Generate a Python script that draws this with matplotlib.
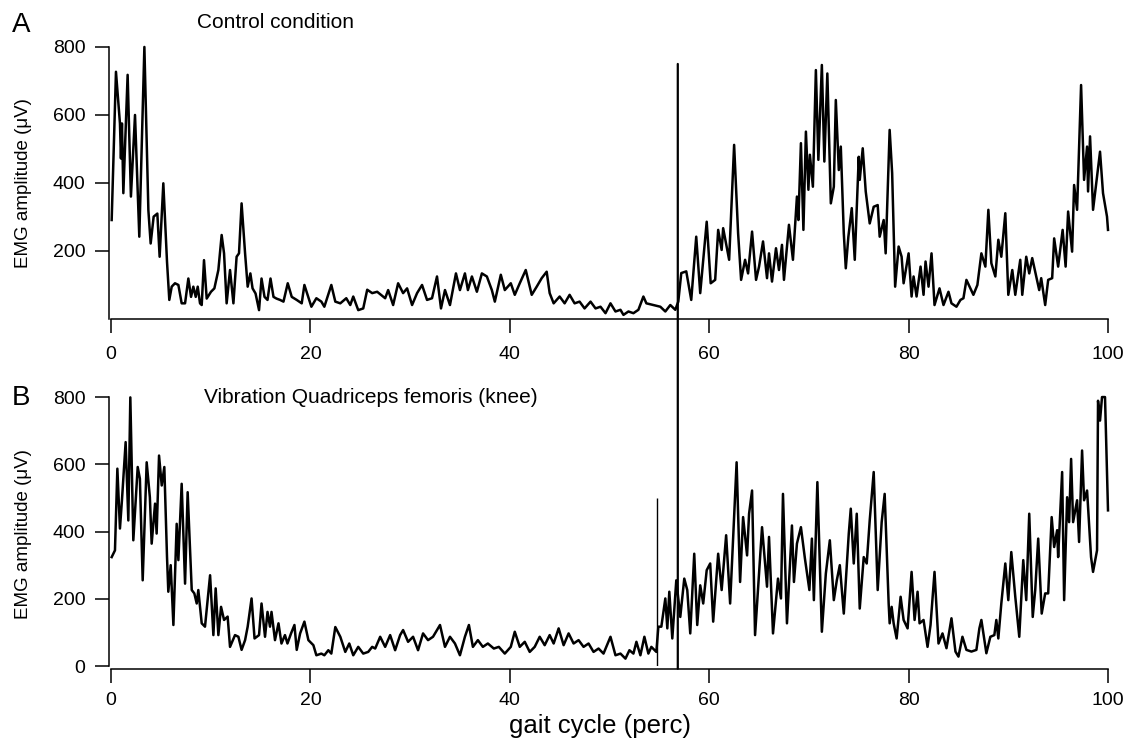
import matplotlib
matplotlib.use('Agg')
import matplotlib.pyplot as plt
from matplotlib.patches import ConnectionPatch

plt.rcParams['font.family'] = ['Liberation Sans', 'DejaVu Sans']

# ---- panel A: control condition (gait cycle %, EMG uV) ----
xA = [0.07, 0.5, 0.9, 1.0, 1.1, 1.24, 1.67, 2.0, 2.41, 2.84, 3.35, 3.75, 3.98, 4.28, 4.65, 4.88, 5.25, 5.62, 5.85, 6.09,
      6.42, 6.76, 7.09, 7.43, 7.76, 8.03, 8.26, 8.5, 8.7, 8.93, 9.1, 9.33, 9.6, 10.03, 10.37, 10.77, 11.1, 11.34, 11.6, 11.94,
      12.28, 12.6, 12.84, 13.1, 13.45, 13.71, 13.98, 14.2, 14.5, 14.85, 15.1, 15.4, 15.7, 16.0, 16.3, 16.6, 16.96, 17.3, 17.73, 18.13,
      18.63, 19.13, 19.4,
      20.1, 20.6, 21.1, 21.4, 22.1, 22.5, 23.0, 23.6, 24.0, 24.3, 24.8, 25.3, 25.7, 26.2, 26.7,
      27.5, 27.8, 28.3, 28.8, 29.3, 29.7, 30.2, 30.7, 31.2, 31.7, 32.2, 32.7, 33.1, 33.5, 34.0, 34.6, 35.0, 35.5, 35.8, 36.2,
      36.7, 37.2, 37.7, 38.2, 38.5, 39.1, 39.5, 40.1, 40.5, 41.0, 41.6, 42.2, 42.7, 43.2, 43.7, 44.0, 44.4, 45.0, 45.5, 46.0,
      46.5, 47.0, 47.5, 48.1, 48.6, 49.1, 49.6, 50.1, 50.6, 51.1, 51.4, 51.9, 52.4, 52.9, 53.4, 53.7, 54.4, 55.1, 55.6, 56.1,
      56.6, 56.9,
      57.2, 57.7, 58.2, 58.7, 59.1, 59.75, 60.15, 60.6, 60.9, 61.25, 61.4, 62.0, 62.5, 62.9, 63.2, 63.6, 63.9, 64.3, 64.7, 65.0,
      65.4, 65.8, 66.0, 66.3, 66.7, 67.0, 67.3, 67.5, 68.0, 68.4, 68.8, 68.95, 69.2, 69.45, 69.7, 69.95, 70.1, 70.4, 70.7, 70.95,
      71.3, 71.55, 71.85, 72.2, 72.5, 72.7, 73.0, 73.2, 73.5, 73.7, 73.96, 74.3, 74.6, 75.0, 75.1, 75.4, 75.7, 76.1, 76.5, 76.9,
      77.1, 77.5, 77.7, 78.1, 78.35, 78.65, 79.0,
      79.3, 79.5, 80.0, 80.3, 80.5, 80.8, 81.2, 81.5, 81.7, 82.0, 82.3, 82.6, 83.1, 83.5, 84.0, 84.3, 84.8, 85.2, 85.5, 85.8,
      86.2, 86.5, 86.9, 87.3, 87.7, 88.0, 88.3, 88.7, 89.0, 89.3, 89.7, 90.0, 90.4, 90.7, 91.2, 91.4, 91.8, 92.1, 92.4, 92.8,
      93.1, 93.3, 93.7, 94.0, 94.4, 94.6, 95.0, 95.45, 95.75, 96.0, 96.4, 96.6, 96.9, 97.3, 97.6, 97.9, 98.0, 98.2, 98.5, 98.9,
      99.2, 99.5, 99.9, 100.0]
yA = [291, 727, 575, 472, 575, 370, 718, 360, 600, 242, 800, 320, 222, 301, 310, 183, 399, 168, 56, 95,
      105, 100, 46, 46, 119, 65, 95, 65, 95, 46, 41, 173, 60, 80, 90, 144, 247, 193, 46, 144,
      46, 183, 193, 340, 193, 95, 134, 90, 75, 26, 119, 65, 56, 119, 65, 60, 56, 51, 105, 65,
      56, 46, 100,
      36, 61, 51, 36, 100, 51, 46, 61, 41, 66, 26, 31, 86, 76, 80,
      61, 85, 41, 105, 76, 90, 41, 76, 100, 56, 61, 125, 31, 85, 41, 134, 85, 134, 85, 125,
      80, 134, 125, 85, 51, 130, 85, 105, 71, 105, 144, 71, 95, 120, 139, 76, 46, 66, 46, 71,
      46, 51, 31, 51, 31, 36, 17, 46, 22, 27, 12, 22, 17, 27, 66, 46, 41, 36, 22, 41,
      27, 51,
      135, 140, 56, 242, 76, 286, 105, 115, 262, 203, 267, 174, 512, 252, 115, 174, 134, 257, 115, 154,
      228, 120, 193, 110, 208, 144, 218, 115, 277, 174, 360, 291, 517, 262, 551, 380, 483, 389, 732, 468,
      747, 463, 722, 340, 389, 644, 438, 507, 252, 149, 242, 326, 174, 477, 409, 502, 375, 281, 330, 335,
      242, 291, 193, 556, 429, 95, 213,
      183, 105, 193, 66, 125, 66, 154, 71, 169, 95, 193, 41, 90, 41, 80, 46, 36, 56, 61, 115,
      90, 71, 100, 193, 154, 321, 164, 125, 233, 183, 311, 71, 144, 71, 174, 71, 183, 134, 179, 125,
      85, 120, 41, 115, 120, 237, 154, 262, 154, 316, 198, 394, 321, 688, 409, 507, 375, 537, 321, 419,
      492, 370, 301, 262]

# ---- panel B: vibration quadriceps femoris (knee) ----
xB = [0.07, 0.4, 0.64, 0.9, 1.1, 1.47, 1.74, 1.94, 2.24, 2.68, 2.9, 3.18, 3.58, 3.9, 4.08, 4.42, 4.58, 4.82, 5.09, 5.35,
      5.62, 5.75, 5.99, 6.26, 6.59, 6.76, 7.09, 7.43, 7.69, 8.1, 8.36, 8.6, 8.76, 9.1, 9.43, 9.94, 10.27, 10.5, 10.77, 11.04,
      11.34, 11.7, 11.94, 12.44, 12.78, 13.1, 13.45, 13.71, 14.1, 14.4, 14.85, 15.1, 15.45, 15.7, 15.95, 16.1, 16.45, 16.8, 17.1, 17.45,
      17.7, 18.06, 18.4, 18.63, 18.97, 19.4,
      19.8, 20.3, 20.6, 21.1, 21.4, 21.8, 22.1, 22.5, 23.0, 23.5, 23.9, 24.3, 24.8, 25.3, 25.8, 26.2, 26.5,
      27.0, 27.5, 28.0, 28.5, 29.0, 29.3, 29.8, 30.3, 30.8, 31.3, 31.8, 32.3, 33.0, 33.5, 34.0, 34.5, 35.0, 35.5, 35.9, 36.3,
      36.8, 37.3, 37.8, 38.4, 38.9, 39.5, 40.1, 40.5, 41.0, 41.5, 42.0, 42.5, 43.0, 43.5, 44.0, 44.4, 44.9, 45.4, 45.9, 46.4,
      46.9, 47.4, 47.9, 48.4, 48.9, 49.4, 50.1, 50.6, 51.1, 51.6, 52.0, 52.4, 52.7, 53.1, 53.5, 53.9, 54.2, 54.7,
      54.9, 55.2, 55.6, 55.8, 56.0, 56.3, 56.7, 57.1, 57.5, 57.8, 58.1, 58.5, 58.8, 59.1, 59.4, 59.75, 60.1, 60.4, 60.9, 61.25,
      61.7, 62.1, 62.75, 63.1, 63.4, 63.8, 64.0, 64.3, 64.6, 65.3, 65.8, 66.0, 66.4, 66.9, 67.2, 67.4, 67.8, 68.3, 68.5, 68.8,
      69.2, 69.6, 70.05, 70.3, 70.5, 70.85, 71.3, 71.7, 72.1, 72.5, 72.8, 73.1, 73.5, 74.0, 74.2, 74.5, 74.8, 75.1, 75.5, 75.8,
      76.1, 76.5, 76.9, 77.3, 77.6,
      78.0, 78.1, 78.3, 78.5, 78.8, 79.2, 79.5, 79.9, 80.3, 80.6, 80.9, 81.1, 81.5, 81.9, 82.2, 82.6, 83.0, 83.4, 83.8, 84.3,
      84.7, 85.0, 85.4, 85.8, 86.3, 86.8, 87.1, 87.3, 87.8, 88.2, 88.6, 88.8, 89.0, 89.3, 89.7, 90.0, 90.3, 90.7, 91.1, 91.5,
      91.8, 92.1, 92.45, 92.7, 93.0, 93.35, 93.7, 94.0, 94.35, 94.6, 94.9, 95.0, 95.4, 95.6, 95.9, 96.1, 96.3, 96.5, 96.9, 97.1,
      97.4, 97.6, 97.9, 98.1, 98.3, 98.5, 98.9, 99.0, 99.2, 99.4, 99.7, 100.0]
yB = [324, 344, 587, 409, 493, 666, 433, 799, 374, 592, 557, 255, 606, 502, 364, 483, 394, 626, 537, 592,
      324, 221, 300, 122, 423, 315, 542, 245, 517, 226, 216, 186, 226, 127, 117, 270, 92, 231, 92, 176,
      137, 147, 57, 92, 87, 48, 77, 117, 201, 82, 92, 186, 87, 161, 117, 161, 77, 127, 67, 92,
      67, 97, 122, 48, 97, 132,
      77, 62, 32, 37, 32, 47, 37, 116, 87, 42, 67, 32, 57, 37, 42, 57, 52,
      87, 57, 92, 47, 92, 107, 72, 87, 47, 97, 77, 87, 122, 57, 87, 67, 32, 87, 122, 57,
      77, 57, 67, 52, 57, 37, 57, 102, 57, 72, 42, 57, 87, 62, 92, 67, 112, 62, 97, 67,
      77, 57, 67, 42, 52, 37, 87, 32, 37, 22, 47, 37, 72, 32, 87, 37, 57, 42,
      117, 117, 201, 112, 221, 82, 255, 146, 260, 226, 97, 334, 122, 240, 186, 285, 305, 132, 334, 226,
      389, 186, 606, 250, 443, 329, 453, 522, 92, 413, 236, 384, 97, 260, 201, 512, 127, 418, 250, 364,
      413, 320, 226, 379, 196, 547, 102, 275, 374, 196, 255, 300, 156, 394, 468, 305, 453, 171, 324, 305,
      433, 577, 226, 428, 512,
      186, 127, 176, 127, 82, 206, 137, 112, 280, 137, 221, 127, 137, 57, 122, 280, 67, 97, 53, 142,
      43, 28, 87, 48, 43, 48, 112, 137, 38, 87, 92, 137, 82, 186, 305, 196, 339, 206, 87, 315,
      196, 453, 146, 226, 379, 156, 216, 216, 443, 354, 404, 324, 577, 196, 502, 428, 616, 428, 493, 369,
      641, 493, 522, 423, 324, 280, 344, 789, 730, 800, 800, 463]

# markers drawn as vertical lines
toe_off = 56.85        # long line through both panels
toe_off_top = 750
stim_x = 54.75         # short line in panel B
stim_top = 500

fig = plt.figure(figsize=(11.29, 7.43), dpi=100)
axA = fig.add_axes([0.0983, 0.5707, 0.8831, 0.3661])
axB = fig.add_axes([0.0983, 0.1036, 0.8831, 0.3620])

for ax, x, y, yt in [(axA, xA, yA, [200, 400, 600, 800]),
                     (axB, xB, yB, [0, 200, 400, 600, 800])]:
    ax.plot(x, y, color='black', lw=1.8, clip_on=False, solid_joinstyle='round')
    ax.set_xlim(0, 100)
    ax.set_ylim(0, 800)
    ax.set_xticks([0, 20, 40, 60, 80, 100])
    ax.set_yticks(yt)
    for s in ['top', 'right']:
        ax.spines[s].set_visible(False)
    for s in ['left', 'bottom']:
        ax.spines[s].set_linewidth(1.1)
    ax.spines['left'].set_position(('outward', 1.5))
    ax.tick_params(width=1.1, length=10, labelsize=14)
    ax.tick_params(axis='y', pad=7)

axA.tick_params(axis='x', pad=9.5)
axB.tick_params(axis='x', pad=7)
axB.spines['bottom'].set_position(('outward', 2))
axB.vlines(stim_x, 0, stim_top, color='black', lw=1.0)

line = ConnectionPatch(xyA=(toe_off, toe_off_top), coordsA=axA.transData,
                       xyB=(toe_off, -8), coordsB=axB.transData,
                       color='black', lw=1.6)
fig.add_artist(line)

fig.text(0.0208, 0.7537, 'EMG amplitude (\u03bcV)', rotation=90, ha='center', va='center', fontsize=13.5)
fig.text(0.0208, 0.2813, 'EMG amplitude (\u03bcV)', rotation=90, ha='center', va='center', fontsize=13.5)
fig.text(0.0106, 0.957, 'A', fontsize=20, ha='left', va='baseline')
fig.text(0.0106, 0.455, 'B', fontsize=20, ha='left', va='baseline')
fig.text(0.1745, 0.9623, 'Control condition', fontsize=15, ha='left', va='baseline')
fig.text(0.1807, 0.4576, 'Vibration Quadriceps femoris (knee)', fontsize=15, ha='left', va='baseline')
fig.text(0.5315, 0.014, 'gait cycle (perc)', fontsize=18.5, ha='center', va='baseline')

fig.savefig('out.png', dpi=100)
